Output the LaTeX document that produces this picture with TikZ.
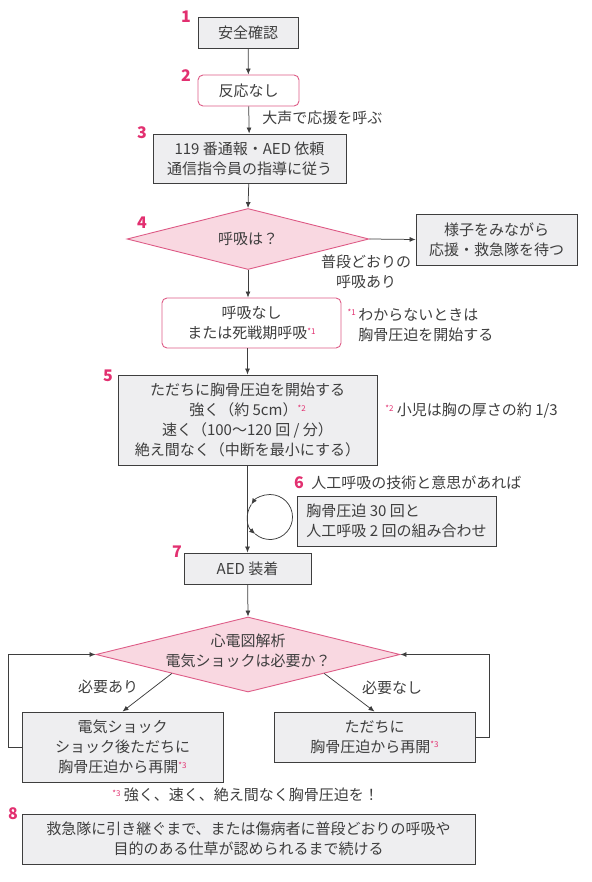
\documentclass[tikz,border=0pt]{standalone}
\usepackage{fontspec}
\setmainfont{Noto Sans CJK JP}
\usetikzlibrary{shapes.geometric,arrows.meta}

\definecolor{inkgray}{RGB}{62,62,62}
\definecolor{boxfill}{RGB}{238,238,240}
\definecolor{stepred}{RGB}{226,48,112}
\definecolor{rosefill}{RGB}{249,216,225}
\definecolor{roseline}{RGB}{222,92,135}

\newcommand{\fnmark}[1]{{\color{stepred}\fontsize{8}{8}\selectfont\raisebox{0.55em}{*#1}}}

\tikzset{every picture/.style={line width=0.75pt}}
\tikzset{
  graybox/.style={draw=inkgray, fill=boxfill, line width=0.9pt, text=inkgray, align=center, inner sep=0pt},
  rosebox/.style={draw=roseline, fill=white, rounded corners=5pt, line width=0.9pt, text=inkgray, align=center, inner sep=0pt},
  decision/.style={diamond, aspect=4, draw=roseline, fill=rosefill, line width=0.9pt, inner sep=0pt},
  stepnum/.style={text=stepred, font=\fontsize{16}{16}\selectfont\bfseries, inner sep=0pt},
  flowline/.style={draw=inkgray, -{Latex[length=6pt,width=5pt]}},
  plain/.style={text=inkgray, align=center, inner sep=0pt}
}

\begin{document}
\begin{tikzpicture}[x=1pt,y=1pt,yscale=-1,xscale=1,font=\fontsize{15}{20}\selectfont]
\useasboundingbox (0,0) rectangle (591,882);

% Steps
\node [graybox, minimum width=100, minimum height=31] (safe) at (248,32.5) {安全確認};
\node [rosebox, minimum width=101, minimum height=31] (noresp) at (248.5,90.5) {反応なし};
\node [graybox, minimum width=193, minimum height=49] (call) at (249.5,158.5) {119 番通報・AED 依頼\\通信指令員の指導に従う};
\node [decision, minimum width=242, minimum height=61,
       label={[plain]center:呼吸は？}] (breath) at (248,239) {};
\node [graybox, minimum width=161, minimum height=51] (wait) at (496.5,239.5) {様子をみながら\\応援・救急隊を待つ};
\node [rosebox, minimum width=179, minimum height=50] (nobreath) at (251.5,323) {呼吸なし\\または死戦期呼吸\fnmark{1}};
\node [graybox, minimum width=259, minimum height=90] (cpr) at (247.5,420) {ただちに胸骨圧迫を開始する\\強く（約 5cm）\fnmark{2}\\速く（100～120 回 / 分）\\絶え間なく（中断を最小にする）};
\node [graybox, align=left, minimum width=199, minimum height=50] (combo) at (396.5,521) {胸骨圧迫 30 回と\\人工呼吸 2 回の組み合わせ};
\node [graybox, minimum width=127, minimum height=31] (aed) at (247.5,568.5) {AED 装着};
\node [decision, minimum width=304, minimum height=75,
       label={[plain,yshift=4pt]center:心電図解析\\電気ショックは必要か？}] (ecg) at (248,654.5) {};
\node [graybox, minimum width=201, minimum height=70] (shock) at (122.5,747) {電気ショック\\ショック後ただちに\\胸骨圧迫から再開\fnmark{3}};
\node [graybox, minimum width=201, minimum height=50] (noshock) at (374.5,737) {ただちに\\胸骨圧迫から再開\fnmark{3}};
\node [graybox, minimum width=453, minimum height=50] (handover) at (248.5,839) {救急隊に引き継ぐまで、または傷病者に普段どおりの呼吸や\\目的のある仕草が認められるまで続ける};

% Step numbers
\node [stepnum] (s1) at (186,17) {1};
\node [stepnum] (s2) at (186,76) {2};
\node [stepnum] (s3) at (142,133) {3};
\node [stepnum] (s4) at (142,223) {4};
\node [stepnum] (s5) at (108,376) {5};
\node [stepnum] (s6) at (299,483) {6};
\node [stepnum] (s7) at (177,552) {7};
\node [stepnum] (s8) at (13,814) {8};

% Notes and labels
\node [plain, anchor=west] (shout) at (262,118) {大声で応援を呼ぶ};
\node [plain] (usual) at (366,271.5) {普段どおりの\\呼吸あり};
\node [plain, anchor=west, align=left] (note1) at (358,325) {\llap{\fnmark{1}\,}わからないときは\\胸骨圧迫を開始する};
\node [plain, anchor=west] (note2) at (385,411) {\fnmark{2} 小児は胸の厚さの約 1/3};
\node [plain, anchor=west] (skill) at (311,483) {人工呼吸の技術と意思があれば};
\node [plain, anchor=west] (note3) at (112,795) {\fnmark{3} 強く、速く、絶え間なく胸骨圧迫を！};
\node [plain] (yes) at (108,687) {必要あり};
\node [plain] (no) at (392,688) {必要なし};

% Connectors
\draw [flowline] (safe) -- (noresp);
\draw [flowline] (noresp) -- (call);
\draw [flowline] (call) -- (breath.north);
\draw [flowline] (breath.east) -- (wait.west);
\draw [flowline] (breath.south) -- (breath.south |- nobreath.north);
\draw [flowline] (nobreath.south -| cpr.north) -- (cpr.north);
\draw [flowline] (cpr.south -| aed.north) -- (aed.north);
\draw [flowline] (aed) -- (ecg.north);
\draw [flowline] (ecg.south west) -- (shock.north);
\draw [flowline] (ecg.south east) -- (noshock.north);
\draw [flowline] (shock.west) -- ++(-13,0) |- (ecg.west);
\draw [flowline] (noshock.east) -- ++(14,0) |- (ecg.east);

% Loop
\coordinate (loop) at (270,517);
\draw [flowline] (loop) ++(0:22.5) arc (0:-146:22.5);
\draw [flowline] (loop) ++(-146:22.5) arc (-146:-229:22.5);
\draw [draw=inkgray] (loop) ++(-229:22.5) arc (-229:-360:22.5);

\end{tikzpicture}
\end{document}
